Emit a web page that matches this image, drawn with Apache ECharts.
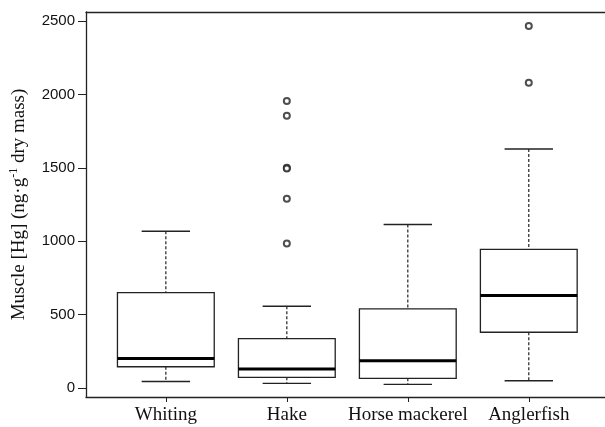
<!DOCTYPE html>
<html>
<head>
<meta charset="utf-8">
<script src="https://cdn.jsdelivr.net/npm/echarts@6/dist/echarts.min.js"></script>
<style>
  html, body { margin: 0; padding: 0; background: #fff; }
  #chart { width: 605px; height: 427px; }
</style>
</head>
<body>
<div id="chart"></div>
<script>
// values (ng/g dry mass)
const categories = ['Whiting', 'Hake', 'Horse mackerel', 'Anglerfish']
const whiskerLow = [45, 32, 25, 50]
const q1 = [145, 73, 66, 380]
const median = [202, 129, 186, 630]
const q3 = [650, 337, 539, 944]
const whiskerHigh = [1068, 557, 1114, 1628]
const hakeOutliers = [1955, 1855, 1500, 1495, 1290, 985]
const anglerOutliers = [2465, 2080]
const yTicks = [0, 500, 1000, 1500, 2000, 2500]

const boxData = categories.map((c, i) => [i + 1, whiskerLow[i], q1[i], median[i], q3[i], whiskerHigh[i]])
const outlierData = [
  ...hakeOutliers.map(v => [2, v]),
  ...anglerOutliers.map(v => [4, v]),
]

const ink = '#222'
const chart = echarts.init(document.getElementById('chart'))

function renderBox(params, api) {
  const x = api.value(0)
  const pt = k => api.coord([x, api.value(k)])
  const low = pt(1), lo = pt(2), med = pt(3), hi = pt(4), top = pt(5)
  const cx = low[0]
  const half = api.size([0.8, 0])[0] / 2
  const cap = api.size([0.4, 0])[0] / 2
  const dash = { stroke: ink, lineWidth: 1.2, lineDash: [3, 2] }
  const solid = { stroke: ink, lineWidth: 1.4 }
  return {
    type: 'group',
    children: [
      { type: 'line', shape: { x1: cx, y1: top[1], x2: cx, y2: hi[1] }, style: dash },
      { type: 'line', shape: { x1: cx, y1: lo[1], x2: cx, y2: low[1] }, style: dash },
      { type: 'line', shape: { x1: cx - cap, y1: top[1], x2: cx + cap, y2: top[1] }, style: solid },
      { type: 'line', shape: { x1: cx - cap, y1: low[1], x2: cx + cap, y2: low[1] }, style: solid },
      {
        type: 'rect',
        shape: { x: cx - half, y: hi[1], width: half * 2, height: lo[1] - hi[1] },
        style: { fill: '#fff', stroke: ink, lineWidth: 1.3 },
      },
      { type: 'line', shape: { x1: cx - half, y1: med[1], x2: cx + half, y2: med[1] }, style: { stroke: '#000', lineWidth: 3 } },
    ],
  }
}

// frame runs past the right edge of the picture, so the x range stops short
const xMin = 0.34
const xMax = 4.63

chart.setOption({
  animation: false,
  backgroundColor: '#fff',
  grid: { left: 86, right: 0, top: 12, bottom: 30 },
  xAxis: [
    {
      type: 'value',
      min: xMin,
      max: xMax,
      splitLine: { show: false },
      axisLine: { show: true, onZero: false, lineStyle: { color: ink, width: 1.3 } },
      axisTick: { show: true, length: 5, customValues: [1, 2, 3, 4], lineStyle: { color: ink } },
      axisLabel: {
        customValues: [1, 2, 3, 4],
        formatter: v => categories[Math.round(v) - 1],
        margin: 9,
        color: '#111',
        fontFamily: 'Liberation Serif',
        fontSize: 19,
      },
    },
    {
      type: 'value',
      position: 'top',
      min: xMin,
      max: xMax,
      splitLine: { show: false },
      axisLine: { show: true, onZero: false, lineStyle: { color: ink, width: 1.3 } },
      axisTick: { show: false },
      axisLabel: { show: false },
    },
  ],
  yAxis: {
    type: 'value',
    min: -61,
    max: 2561,
    splitLine: { show: false },
    axisLine: { show: true, lineStyle: { color: ink, width: 1.3 } },
    axisTick: { show: true, length: 8, customValues: yTicks, lineStyle: { color: ink } },
    axisLabel: {
      customValues: yTicks,
      formatter: v => String(v),
      margin: 11,
      color: '#111',
      fontFamily: 'Liberation Sans',
      fontSize: 15,
    },
    name: '{a|Muscle [Hg] (ng·g}{s|-1}{a| dry mass)}',
    nameLocation: 'middle',
    nameGap: 56,
    nameTextStyle: {
      rich: {
        a: { fontFamily: 'Liberation Serif', fontSize: 19, color: '#111', lineHeight: 22 },
        s: { fontFamily: 'Liberation Serif', fontSize: 12, color: '#111', verticalAlign: 'top', lineHeight: 22 },
      },
    },
  },
  series: [
    {
      type: 'custom',
      renderItem: renderBox,
      encode: { x: 0, y: [1, 2, 3, 4, 5] },
      data: boxData,
      z: 2,
    },
    {
      type: 'scatter',
      data: outlierData,
      symbol: 'emptyCircle',
      symbolSize: 6,
      itemStyle: { color: ink, borderColor: ink, borderWidth: 1.3 },
      z: 3,
    },
  ],
})
</script>
</body>
</html>
